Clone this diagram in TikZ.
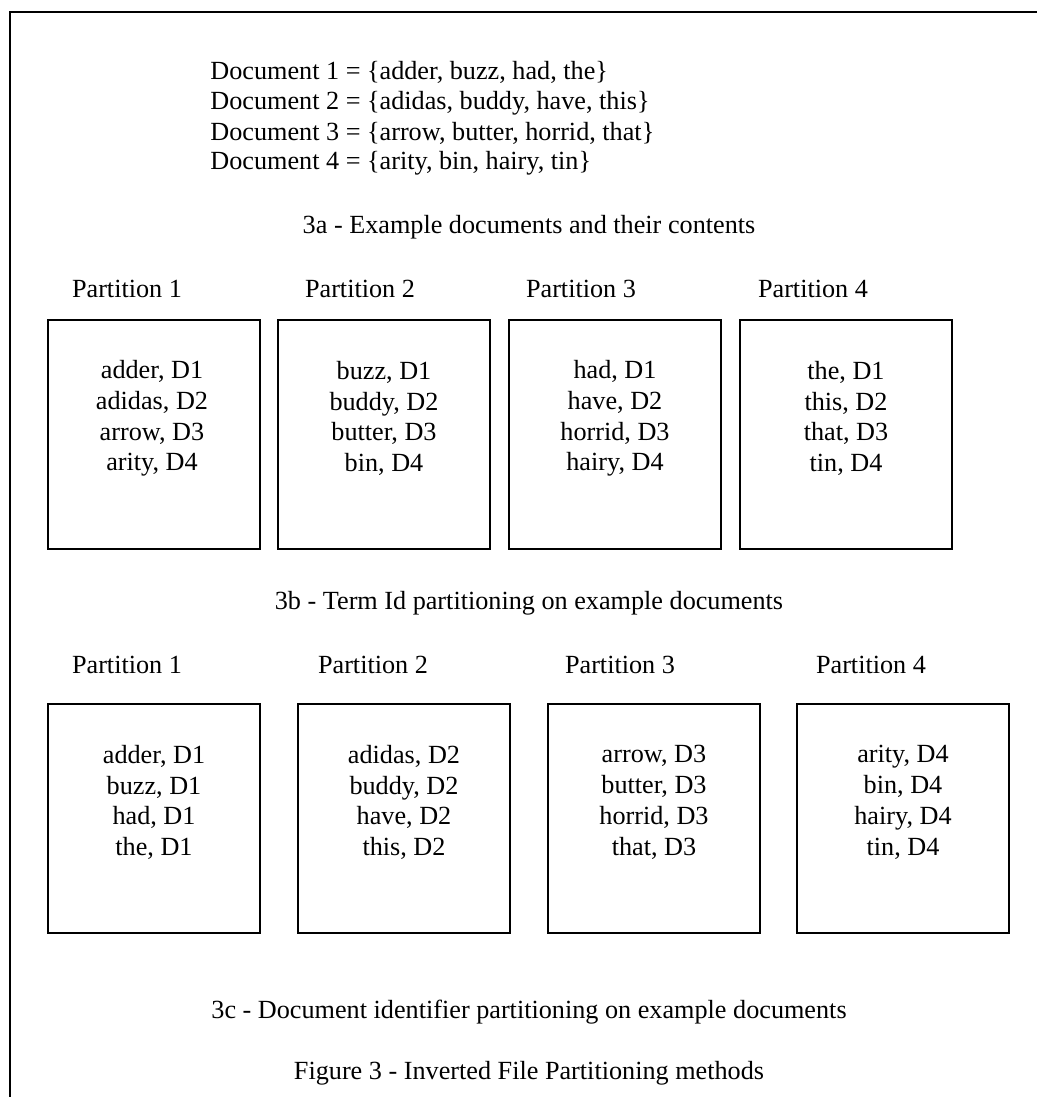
\documentclass[tikz,border=0pt]{standalone}
\usepackage{fontspec}
\setmainfont{Liberation Serif}
\usetikzlibrary{calc}

\begin{document}
\begin{tikzpicture}[x=0.5pt,y=-0.5pt,
 every node/.style={font=\fontsize{13.1}{15.4}\selectfont,inner sep=0pt},
 part/.style={draw,line width=0.6pt,minimum width=106pt,minimum height=114.5pt},
 terms/.style={align=center}]
\useasboundingbox (0,0) rectangle (1037,1097);
%Frame
\draw[line width=1pt] (10,1097) -- (10,12) -- (1037,12);

%Documents
\path
 (210,72) node[anchor=west] (d1) {Document 1 = \{adder, buzz, had, the\}}
 (210,103) node[anchor=west] (d2) {Document 2 = \{adidas, buddy, have, this\}}
 (210,133) node[anchor=west] (d3) {Document 3 = \{arrow, butter, horrid, that\}}
 (210,163) node[anchor=west] (d4) {Document 4 = \{arity, bin, hairy, tin\}}
 (529,227) node (capa) {3a - Example documents and their contents}
 ;

%Term Id partitions
\path
 (127,289) node (lb1) {Partition 1}
 (360,289) node (lb2) {Partition 2}
 (581,289) node (lb3) {Partition 3}
 (813,289) node (lb4) {Partition 4}
 (154,434.5) node[part] (b1) {}
 (384,434.5) node[part] (b2) {}
 (615,434.5) node[part] (b3) {}
 (846,434.5) node[part] (b4) {}
 (529,603) node (capb) {3b - Term Id partitioning on example documents}
 ;
\node[terms] (tb1) at ($(b1.north)+(-2,99)$) {adder, D1\\adidas, D2\\arrow, D3\\arity, D4};
\node[terms] (tb2) at ($(b2.north)+(0,99)$) {buzz, D1\\buddy, D2\\butter, D3\\bin, D4};
\node[terms] (tb3) at ($(b3.north)+(0,99)$) {had, D1\\have, D2\\horrid, D3\\hairy, D4};
\node[terms] (tb4) at ($(b4.north)+(0,99)$) {the, D1\\this, D2\\that, D3\\tin, D4};

%Document identifier partitions
\path
 (127,665) node (lc1) {Partition 1}
 (373,665) node (lc2) {Partition 2}
 (620,665) node (lc3) {Partition 3}
 (871,665) node (lc4) {Partition 4}
 (154,818.5) node[part] (c1) {}
 (404,818.5) node[part] (c2) {}
 (654,818.5) node[part] (c3) {}
 (903,818.5) node[part] (c4) {}
 (529,1012) node (capc) {3c - Document identifier partitioning on example documents}
 (529,1073) node (fig) {Figure 3 - Inverted File Partitioning methods}
 ;
\node[terms] (tc1) at ($(c1.north)+(0,99)$) {adder, D1\\buzz, D1\\had, D1\\the, D1};
\node[terms] (tc2) at ($(c2.north)+(0,99)$) {adidas, D2\\buddy, D2\\have, D2\\this, D2};
\node[terms] (tc3) at ($(c3.north)+(0,99)$) {arrow, D3\\butter, D3\\horrid, D3\\that, D3};
\node[terms] (tc4) at ($(c4.north)+(0,99)$) {arity, D4\\bin, D4\\hairy, D4\\tin, D4};
\end{tikzpicture}
\end{document}
